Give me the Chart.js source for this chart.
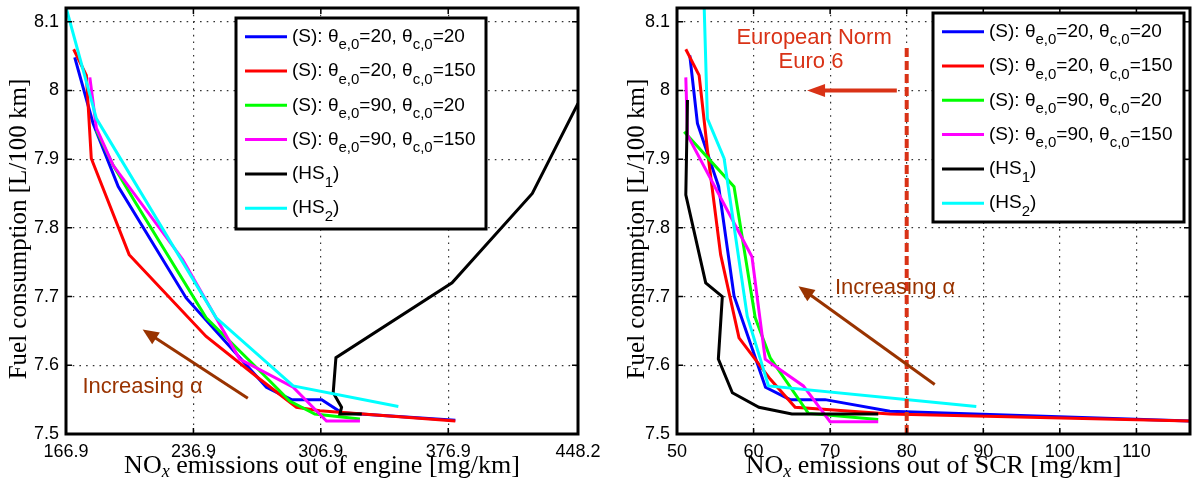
<!DOCTYPE html>
<html>
<head>
<meta charset="utf-8">
<script src="https://cdn.jsdelivr.net/npm/chart.js@4.4.1/dist/chart.umd.min.js"></script>
<style>
  html, body { margin: 0; padding: 0; background: #fff; }
  #wrap { position: relative; width: 1195px; height: 486px; }
  canvas { position: absolute; top: 0; }
</style>
</head>
<body>
<div id="wrap">
  <canvas id="engine" width="620" height="486" style="left:0"></canvas>
  <canvas id="scr" width="598" height="486" style="left:597px"></canvas>
</div>
<script>
// legend text, "_{..}" marks a subscript
const seriesLabels = [
  "(S): θ_{e,0}=20, θ_{c,0}=20",
  "(S): θ_{e,0}=20, θ_{c,0}=150",
  "(S): θ_{e,0}=90, θ_{c,0}=20",
  "(S): θ_{e,0}=90, θ_{c,0}=150",
  "(HS_{1})",
  "(HS_{2})"
];
const seriesColors = ["#0000ff", "#ff0000", "#00ff00", "#ff00ff", "#000000", "#00ffff"];

const fuelTicks = [7.5, 7.6, 7.7, 7.8, 7.9, 8.0, 8.1];
const engineTicks = [166.9, 236.9, 306.9, 376.9, 448.2];
const scrTicks = [50, 60, 70, 80, 90, 100, 110];

const fuelLabel = "Fuel consumption [L/100 km]";
const engineLabel = "NO_{x} emissions out of engine [mg/km]";
const scrLabel = "NO_{x} emissions out of SCR [mg/km]";

// left panel: NOx out of engine
const engS1x = [171.7, 181.8, 195.6, 232.9, 277.0, 290.8, 307.4, 318.4, 380.8];
const engS1y = [8.048, 7.952, 7.860, 7.698, 7.568, 7.550, 7.550, 7.531, 7.520];
const engS2x = [171.1, 178.1, 180.8, 201.6, 243.9, 273.3, 293.5, 306.4, 380.8];
const engS2y = [8.060, 8.022, 7.901, 7.761, 7.642, 7.580, 7.539, 7.534, 7.519];
const engS3x = [183.6, 192.8, 204.8, 243.9, 273.3, 289.8, 303.6, 328.4];
const engS3y = [7.942, 7.891, 7.838, 7.669, 7.592, 7.548, 7.529, 7.522];
const engS4x = [180.0, 183.6, 192.8, 231.0, 262.3, 291.7, 310.0, 328.4];
const engS4y = [8.019, 7.945, 7.891, 7.754, 7.609, 7.568, 7.519, 7.519];
const engHS1x = [448.2, 423.1, 379.0, 315.2, 313.7, 318.3, 317.4, 329.4];
const engHS1y = [7.981, 7.850, 7.720, 7.611, 7.560, 7.539, 7.529, 7.529];
const engHS2x = [166.5, 183.6, 249.4, 291.7, 349.5];
const engHS2y = [8.125, 7.959, 7.669, 7.570, 7.540];

// right panel: NOx out of SCR
const scrS1x = [51.67, 52.67, 55.44, 57.45, 61.56, 64.78, 69.34, 77.80, 117];
const scrS1y = [8.051, 7.952, 7.860, 7.701, 7.568, 7.550, 7.550, 7.533, 7.519];
const scrS2x = [51.15, 52.89, 54.1, 55.7, 58.10, 62.17, 65.43, 77.8, 117];
const scrS2y = [8.060, 8.022, 7.901, 7.761, 7.640, 7.580, 7.539, 7.529, 7.519];
const scrS3x = [50.94, 57.45, 60.22, 62.17, 67.16, 76.28];
const scrS3y = [7.940, 7.860, 7.669, 7.611, 7.530, 7.521];
const scrS4x = [51.15, 51.37, 59.79, 61.52, 66.5, 69.99, 76.28];
const scrS4y = [8.019, 7.935, 7.758, 7.609, 7.570, 7.518, 7.518];
const scrHS1x = [51.37, 51.15, 53.75, 55.92, 55.40, 57.23, 60.70, 65.0, 76.28];
const scrHS1y = [7.986, 7.848, 7.720, 7.700, 7.609, 7.560, 7.539, 7.529, 7.529];
const scrHS2x = [53.54, 53.97, 56.15, 59.18, 61.95, 89.09];
const scrHS2y = [8.125, 7.959, 7.901, 7.671, 7.570, 7.540];

// Euro 6 limit
const euroLimitX = [80, 80];
const euroLimitY = [7.5, 8.062];

const BROWN = "rgb(153,51,0)";
const NORM_RED = "rgb(217,50,22)";
const SANS = "'Liberation Sans', Arial, sans-serif";
const SERIF = "'Liberation Serif', 'Times New Roman', serif";

function makeSets(xs, ys) {
  return xs.map((xArr, i) => ({
    label: seriesLabels[i],
    data: xArr.map((x, j) => ({ x: x, y: ys[i][j] })),
    borderColor: seriesColors[i],
    backgroundColor: seriesColors[i],
    borderWidth: 3,
    pointRadius: 0,
    showLine: true,
    fill: false,
    tension: 0,
    order: 10 - i
  }));
}

// split "a_{b}c" into [{t:'a'},{t:'b',sub:true},{t:'c'}]
function parseRich(str) {
  const parts = [];
  const re = /_\{([^}]*)\}/g;
  let last = 0, m;
  while ((m = re.exec(str)) !== null) {
    if (m.index > last) parts.push({ t: str.slice(last, m.index) });
    parts.push({ t: m[1], sub: true });
    last = re.lastIndex;
  }
  if (last < str.length) parts.push({ t: str.slice(last) });
  return parts;
}

function richWidth(ctx, parts, font, subFont) {
  let w = 0;
  parts.forEach(p => { ctx.font = p.sub ? subFont : font; w += ctx.measureText(p.t).width; });
  return w;
}

function drawRich(ctx, parts, x, y, font, subFont, subShift) {
  ctx.textBaseline = "middle";
  ctx.textAlign = "left";
  parts.forEach(p => {
    ctx.font = p.sub ? subFont : font;
    ctx.fillText(p.t, x, p.sub ? y + subShift : y);
    x += ctx.measureText(p.t).width;
  });
}

function drawArrow(ctx, x1, y1, x2, y2, color, width, headLen, headHalf) {
  const ang = Math.atan2(y2 - y1, x2 - x1);
  const bx = x2 - Math.cos(ang) * headLen, by = y2 - Math.sin(ang) * headLen;
  ctx.strokeStyle = color;
  ctx.fillStyle = color;
  ctx.lineWidth = width;
  ctx.lineCap = "butt";
  ctx.beginPath();
  ctx.moveTo(x1, y1);
  ctx.lineTo(bx + Math.cos(ang) * 2, by + Math.sin(ang) * 2);
  ctx.stroke();
  ctx.beginPath();
  ctx.moveTo(x2, y2);
  ctx.lineTo(bx - Math.sin(ang) * headHalf, by + Math.cos(ang) * headHalf);
  ctx.lineTo(bx + Math.sin(ang) * headHalf, by - Math.cos(ang) * headHalf);
  ctx.closePath();
  ctx.fill();
}

const framePlugin = {
  id: "frame",
  afterDatasetsDraw(chart, args, opts) {
    const { ctx, chartArea: a, scales } = chart;
    const sx = scales.x, sy = scales.y;
    ctx.save();

    // annotations in data units
    (opts.arrows || []).forEach(ar => {
      drawArrow(ctx, sx.getPixelForValue(ar.x1), sy.getPixelForValue(ar.y1),
        sx.getPixelForValue(ar.x2), sy.getPixelForValue(ar.y2),
        ar.color, ar.width, ar.headLen, ar.headHalf);
    });
    (opts.notes || []).forEach(n => {
      ctx.font = "22px " + SANS;
      ctx.fillStyle = n.color;
      ctx.textAlign = n.align;
      ctx.textBaseline = "middle";
      ctx.fillText(n.text, sx.getPixelForValue(n.x), sy.getPixelForValue(n.y));
    });

    // box and inward ticks
    ctx.strokeStyle = "#000";
    ctx.lineWidth = 3;
    ctx.setLineDash([]);
    ctx.strokeRect(a.left, a.top, a.right - a.left, a.bottom - a.top);
    ctx.lineWidth = 1.5;
    ctx.beginPath();
    sx.ticks.forEach(t => {
      const px = sx.getPixelForValue(t.value);
      ctx.moveTo(px, a.bottom); ctx.lineTo(px, a.bottom - 6);
      ctx.moveTo(px, a.top); ctx.lineTo(px, a.top + 6);
    });
    sy.ticks.forEach(t => {
      const py = sy.getPixelForValue(t.value);
      ctx.moveTo(a.left, py); ctx.lineTo(a.left + 6, py);
      ctx.moveTo(a.right, py); ctx.lineTo(a.right - 6, py);
    });
    ctx.stroke();

    // legend
    const lg = opts.legend;
    ctx.fillStyle = "#fff";
    ctx.fillRect(lg.x, lg.y, lg.w, lg.h);
    ctx.lineWidth = 3;
    ctx.strokeStyle = "#000";
    ctx.strokeRect(lg.x, lg.y, lg.w, lg.h);
    chart.data.datasets.slice(0, seriesLabels.length).forEach((ds, i) => {
      const cy = lg.y + 18.7 + i * 34.3;
      ctx.strokeStyle = ds.borderColor;
      ctx.lineWidth = 3;
      ctx.beginPath();
      ctx.moveTo(lg.x + 9, cy);
      ctx.lineTo(lg.x + 51, cy);
      ctx.stroke();
      ctx.fillStyle = "#000";
      drawRich(ctx, parseRich(ds.label), lg.x + 56, cy, "19px " + SANS, "15px " + SANS, 8.5);
    });

    // axis titles
    ctx.fillStyle = "#000";
    const xParts = parseRich(opts.xTitle);
    const tFont = "26px " + SERIF, tSub = "italic 18px " + SERIF;
    const xw = richWidth(ctx, xParts, tFont, tSub);
    drawRich(ctx, xParts, (a.left + a.right) / 2 - xw / 2, 466, tFont, tSub, 6);
    ctx.save();
    ctx.translate(opts.yTitleX, (a.top + a.bottom) / 2 + 8);
    ctx.rotate(-Math.PI / 2);
    ctx.font = "25px " + SERIF;
    ctx.textAlign = "center";
    ctx.textBaseline = "middle";
    ctx.fillText(fuelLabel, 0, 0);
    ctx.restore();

    ctx.restore();
  }
};

function axisOptions(ticksArr, fmt, isX, fitSize) {
  return {
    type: "linear",
    afterBuildTicks: s => { s.ticks = ticksArr.map(v => ({ value: v })); },
    afterFit: s => {
      if (isX) s.height = fitSize; else s.width = fitSize;
      s.paddingLeft = 0; s.paddingRight = 0; s.paddingTop = 0; s.paddingBottom = 0;
    },
    grid: { color: "rgba(0,0,0,0.8)", lineWidth: 1.2, drawTicks: false },
    border: { display: false, dash: [1.6, 5.1] },
    ticks: {
      autoSkip: false, maxRotation: 0, minRotation: 0, padding: 7,
      color: "#000", font: { family: SANS, size: 18 },
      callback: v => fmt(v)
    }
  };
}

function baseOptions(xAxis, padRight, frame) {
  const yAxis = axisOptions(fuelTicks, v => String(+v.toFixed(1)), false, frame.yWidth);
  yAxis.min = 7.5; yAxis.max = 8.12;
  return {
    responsive: false,
    animation: false,
    devicePixelRatio: 1,
    layout: { padding: { top: 8, right: padRight, left: 0, bottom: 0 } },
    scales: { x: xAxis, y: yAxis },
    plugins: { legend: { display: false }, tooltip: { enabled: false }, frame: frame }
  };
}

Chart.register(framePlugin);

const engX = axisOptions(engineTicks, v => v.toFixed(1), true, 52);
engX.min = 166.9; engX.max = 448.2;
new Chart(document.getElementById("engine"), {
  type: "scatter",
  data: {
    datasets: makeSets([engS1x, engS2x, engS3x, engS4x, engHS1x, engHS2x],
                       [engS1y, engS2y, engS3y, engS4y, engHS1y, engHS2y])
  },
  options: baseOptions(engX, 42, {
    yWidth: 66,
    yTitleX: 19,
    xTitle: engineLabel,
    legend: { x: 236, y: 18, w: 250, h: 211 },
    arrows: [
      { x1: 266.8, y1: 7.552, x2: 209.0, y2: 7.652, color: BROWN, width: 3, headLen: 16, headHalf: 7 }
    ],
    notes: [
      { text: "Increasing α", x: 175.9, y: 7.568, color: BROWN, align: "left" }
    ]
  })
});

const scrX = axisOptions(scrTicks, v => String(v), true, 52);
scrX.min = 50; scrX.max = 117;
const scrSets = makeSets([scrS1x, scrS2x, scrS3x, scrS4x, scrHS1x, scrHS2x],
                         [scrS1y, scrS2y, scrS3y, scrS4y, scrHS1y, scrHS2y]);
scrSets.push({
  label: "Euro 6",
  data: euroLimitX.map((x, j) => ({ x: x, y: euroLimitY[j] })),
  borderColor: NORM_RED,
  borderWidth: 4,
  borderDash: [9, 4],
  pointRadius: 0,
  showLine: true,
  fill: false,
  order: 0
});
new Chart(document.getElementById("scr"), {
  type: "scatter",
  data: { datasets: scrSets },
  options: baseOptions(scrX, 5, {
    yWidth: 80,
    yTitleX: 40,
    xTitle: scrLabel,
    legend: { x: 336, y: 13, w: 251, h: 209 },
    arrows: [
      { x1: 78.71, y1: 8.0, x2: 66.99, y2: 8.0, color: NORM_RED, width: 4, headLen: 18, headHalf: 6.5 },
      { x1: 83.66, y1: 7.572, x2: 65.86, y2: 7.715, color: BROWN, width: 3, headLen: 16, headHalf: 7 }
    ],
    notes: [
      { text: "European Norm", x: 67.9, y: 8.077, color: NORM_RED, align: "center" },
      { text: "Euro 6", x: 67.5, y: 8.041, color: NORM_RED, align: "center" },
      { text: "Increasing α", x: 70.63, y: 7.712, color: BROWN, align: "left" }
    ]
  })
});
</script>
</body>
</html>
